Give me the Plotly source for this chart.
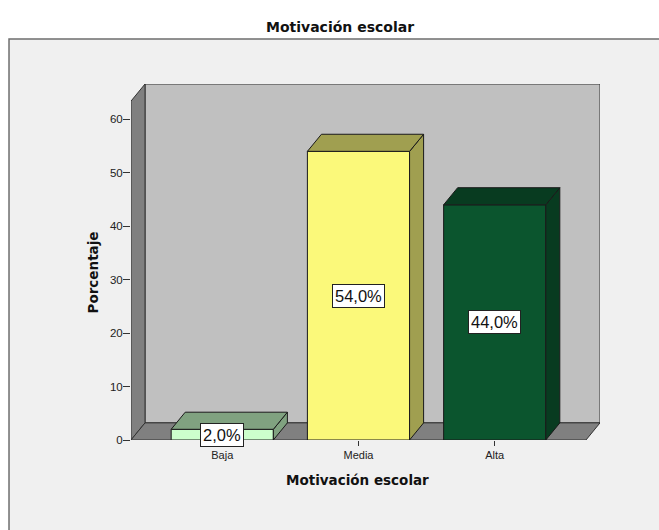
import plotly.graph_objects as go

# ---- data ----
categories = ["Baja", "Media", "Alta"]
values = [2.0, 54.0, 44.0]
label_texts = ["2,0%", "54,0%", "44,0%"]
front_colors = ["#ccffcc", "#fbf97a", "#0b552e"]
side_colors = ["#80a280", "#a09f50", "#083b20"]
y_ticks = [0, 10, 20, 30, 40, 50, 60]

# ---- 3D geometry (axis units) ----
BAR_W = 0.75
PAD = 0.67          # floor padding left/right of outer categories
DX = 0.103          # depth offset along x (category units)
DY = 3.2            # depth offset along y (value units)
WALL_TOP = 63.4     # front top of left wall (value units)

n = len(categories)
xs = list(range(n))
x_lo = -PAD
x_hi = (n - 1) + PAD

fig = go.Figure()

fig.add_trace(go.Bar(
    x=xs, y=values, width=BAR_W,
    marker=dict(color=front_colors, line=dict(color="#1a1a1a", width=1)),
    hoverinfo="skip", showlegend=False,
))

shapes = []
# outer frame (paper coords)
shapes.append(dict(type="rect", xref="paper", yref="paper",
                   x0=-0.2601, x1=1.149, y0=-0.281, y1=1.1264,
                   fillcolor="#f0f0f0", line=dict(color="#6e6e6e", width=1.5),
                   layer="below"))
# back wall
shapes.append(dict(type="rect", xref="x", yref="y",
                   x0=x_lo + DX, x1=x_hi + DX, y0=DY, y1=WALL_TOP + DY,
                   fillcolor="#c0c0c0", line=dict(color="#333333", width=1),
                   layer="below"))
# left wall
shapes.append(dict(type="path", xref="x", yref="y",
                   path=f"M{x_lo},0 L{x_lo},{WALL_TOP} L{x_lo+DX},{WALL_TOP+DY} L{x_lo+DX},{DY} Z",
                   fillcolor="#808080", line=dict(color="#333333", width=1),
                   layer="below"))
# floor
shapes.append(dict(type="path", xref="x", yref="y",
                   path=f"M{x_lo},0 L{x_hi},0 L{x_hi+DX},{DY} L{x_lo+DX},{DY} Z",
                   fillcolor="#808080", line=dict(color="#333333", width=1),
                   layer="below"))

# bar sides and tops, computed from the data
hw = BAR_W / 2
for i, v in zip(xs, values):
    side = (f"M{i+hw},0 L{i+hw},{v} L{i+hw+DX},{v+DY} L{i+hw+DX},{DY} Z")
    top = (f"M{i-hw},{v} L{i+hw},{v} L{i+hw+DX},{v+DY} L{i-hw+DX},{v+DY} Z")
    for p in (side, top):
        shapes.append(dict(type="path", xref="x", yref="y", path=p,
                           fillcolor=side_colors[i],
                           line=dict(color="#1a1a1a", width=1),
                           layer="above"))

annotations = []
for i, v, t in zip(xs, values, label_texts):
    annotations.append(dict(
        x=i, y=v / 2, xref="x", yref="y", text=t, showarrow=False,
        font=dict(family="Liberation Sans, Arial", size=16.5, color="#111111"),
        bgcolor="#ffffff", bordercolor="#222222", borderwidth=1, borderpad=2,
        xanchor="center", yanchor="middle"))

title_font = dict(family="DejaVu Sans", size=14, color="#111111", weight="bold")
axis_title_font = dict(family="DejaVu Sans", size=13.5, color="#111111", weight="bold")
annotations.append(dict(x=0.4456, y=1.160, xref="paper", yref="paper",
                        text="Motivación escolar", showarrow=False,
                        font=title_font, xanchor="center", yanchor="middle"))
annotations.append(dict(x=0.484, y=-0.1124, xref="paper", yref="paper",
                        text="Motivación escolar", showarrow=False,
                        font=axis_title_font, xanchor="center", yanchor="middle"))
annotations.append(dict(x=-0.0821, y=0.472, xref="paper", yref="paper",
                        text="Porcentaje", showarrow=False, textangle=-90,
                        font=axis_title_font, xanchor="center", yanchor="middle"))

fig.update_layout(
    width=659, height=530,
    margin=dict(l=131, r=59, t=84, b=90),
    paper_bgcolor="#ffffff",
    plot_bgcolor="rgba(0,0,0,0)",
    shapes=shapes,
    annotations=annotations,
    showlegend=False,
    xaxis=dict(range=[x_lo, x_hi + DX], tickvals=xs, ticktext=categories,
               ticks="outside", ticklen=5, tickcolor="#333333",
               showgrid=False, zeroline=False, showline=False,
               tickfont=dict(family="Liberation Sans, Arial", size=11, color="#222222"),
               fixedrange=True),
    yaxis=dict(range=[0, WALL_TOP + DY], tickvals=y_ticks,
               ticks="outside", ticklen=7, tickcolor="#333333",
               showgrid=False, zeroline=False, showline=False,
               ticklabelstandoff=-2,
               tickfont=dict(family="Liberation Sans, Arial", size=11.5, color="#222222"),
               fixedrange=True),
)

fig.write_html(
    "out.html",
    config={"displayModeBar": False},
    post_script="document.body.style.margin='0';document.body.style.overflow='hidden';",
)
